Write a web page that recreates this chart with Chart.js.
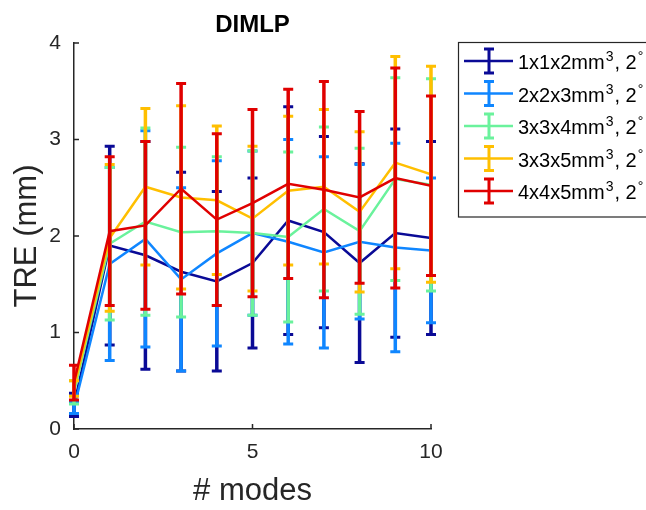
<!DOCTYPE html>
<html>
<head>
<meta charset="utf-8">
<script src="https://cdn.jsdelivr.net/npm/chart.js@4.4.1/dist/chart.umd.min.js"></script>
<style>
    html, body { margin: 0; padding: 0; background: #ffffff; }
    #wrap { width: 646px; height: 510px; }
</style>
</head>
<body>
<div id="wrap"><canvas id="treChart" width="646" height="510"></canvas></div>
<script>
// ======================================================
// Data
// ======================================================

const modes = [0, 1, 2, 3, 4, 5, 6, 7, 8, 9, 10];

const xTicks = [0, 5, 10];
const yTicks = [0, 1, 2, 3, 4];

const seriesLabels = ["1x1x2", "2x2x3", "3x3x4", "3x3x5", "4x4x5"];

const tre112 = [0.25, 1.90, 1.80, 1.63, 1.53, 1.72, 2.16, 2.04, 1.72, 2.03, 1.98];
const err112 = [0.12, 1.03, 1.18, 1.03, 0.93, 0.88, 1.18, 0.99, 1.03, 1.08, 1.00];

const tre223 = [0.22, 1.71, 1.97, 1.55, 1.82, 2.03, 1.94, 1.83, 1.94, 1.88, 1.85];
const err223 = [0.06, 1.00, 1.12, 0.95, 0.96, 0.85, 1.06, 0.99, 0.80, 1.08, 0.75];

const tre334 = [0.38, 1.92, 2.15, 2.04, 2.05, 2.03, 1.99, 2.28, 2.05, 2.59, 2.53];
const err334 = [0.12, 0.79, 0.97, 0.88, 0.77, 0.85, 0.88, 0.85, 0.86, 1.05, 1.10];

const tre335 = [0.42, 1.98, 2.51, 2.40, 2.37, 2.18, 2.47, 2.51, 2.25, 2.76, 2.64];
const err335 = [0.08, 0.76, 0.81, 0.95, 0.77, 0.75, 0.77, 0.80, 0.83, 1.10, 1.12];

const tre445 = [0.48, 2.05, 2.11, 2.49, 2.17, 2.34, 2.54, 2.48, 2.40, 2.60, 2.52];
const err445 = [0.18, 0.77, 0.87, 1.09, 0.89, 0.97, 0.98, 1.12, 0.89, 1.14, 0.93];

const seriesColors = ["#0a0a96", "#0f86ff", "#6af29c", "#ffbf00", "#e00000"];

// ======================================================
// Helpers
// ======================================================

const axisColor = "#262626";
const fontFamily = "'Liberation Sans', Arial, Helvetica, sans-serif";

function makeDataset(index, means, errors) {

    return {
        label: seriesLabels[index],
        data: modes.map((m, i) => ({ x: m, y: means[i] })),
        errors: errors,
        borderColor: seriesColors[index],
        borderWidth: 2.5,
        pointRadius: 0,
        tension: 0,
        fill: false,
        order: 4 - index
    };
}

// ======================================================
// Error bars (drawn right after each line, like errorbar)
// ======================================================

const errorBarPlugin = {

    id: "errorBars",

    afterDatasetDraw(chart, args) {

        const ds = chart.data.datasets[args.index];
        const ctx = chart.ctx;
        const xs = chart.scales.x;
        const ys = chart.scales.y;
        const capHalf = 5;

        ctx.save();
        ctx.strokeStyle = ds.borderColor;
        ctx.lineCap = "butt";

        ds.data.forEach((pt, i) => {

            const px = xs.getPixelForValue(pt.x);
            const top = ys.getPixelForValue(pt.y + ds.errors[i]);
            const bottom = ys.getPixelForValue(pt.y - ds.errors[i]);

            ctx.lineWidth = 3.5;
            ctx.beginPath();
            ctx.moveTo(px, top);
            ctx.lineTo(px, bottom);
            ctx.stroke();

            ctx.lineWidth = 3;
            ctx.beginPath();
            ctx.moveTo(px - capHalf, top);
            ctx.lineTo(px + capHalf, top);
            ctx.moveTo(px - capHalf, bottom);
            ctx.lineTo(px + capHalf, bottom);
            ctx.stroke();
        });

        ctx.restore();
    }
};

// ======================================================
// Inward ticks, title and legend
// ======================================================

const decorPlugin = {

    id: "decor",

    afterDraw(chart) {

        const ctx = chart.ctx;
        const xs = chart.scales.x;
        const ys = chart.scales.y;
        const area = chart.chartArea;

        ctx.save();

        // inward tick marks
        ctx.strokeStyle = axisColor;
        ctx.lineWidth = 1.5;
        ctx.beginPath();
        yTicks.forEach(v => {
            const py = ys.getPixelForValue(v);
            ctx.moveTo(area.left, py);
            ctx.lineTo(area.left + 5, py);
        });
        xTicks.forEach(v => {
            const px = xs.getPixelForValue(v);
            ctx.moveTo(px, area.bottom);
            ctx.lineTo(px, area.bottom - 5);
        });
        ctx.stroke();

        // title
        ctx.fillStyle = "#000000";
        ctx.font = "bold 24px " + fontFamily;
        ctx.textAlign = "center";
        ctx.textBaseline = "alphabetic";
        ctx.fillText("DIMLP", (area.left + area.right) / 2, 32);

        // legend box
        const boxLeft = 458.5;
        const boxTop = 42.5;
        const rowGap = 32.5;

        ctx.fillStyle = "#ffffff";
        ctx.fillRect(boxLeft, boxTop, 300, 5 * rowGap + 12);
        ctx.strokeStyle = axisColor;
        ctx.lineWidth = 1.2;
        ctx.strokeRect(boxLeft, boxTop, 300, 5 * rowGap + 12);

        seriesLabels.forEach((name, i) => {

            const cy = 61 + i * rowGap;

            ctx.strokeStyle = seriesColors[i];
            ctx.lineWidth = 2.5;
            ctx.beginPath();
            ctx.moveTo(464, cy);
            ctx.lineTo(513, cy);
            ctx.stroke();

            ctx.lineWidth = 3;
            ctx.beginPath();
            ctx.moveTo(489, cy - 12);
            ctx.lineTo(489, cy + 12);
            ctx.moveTo(484, cy - 12);
            ctx.lineTo(494, cy - 12);
            ctx.moveTo(484, cy + 12);
            ctx.lineTo(494, cy + 12);
            ctx.stroke();

            ctx.fillStyle = "#000000";
            ctx.textAlign = "left";
            ctx.textBaseline = "alphabetic";

            let tx = 518;
            const base = cy + 8;

            ctx.font = "20px " + fontFamily;
            const main = name + "mm";
            ctx.fillText(main, tx, base);
            tx += ctx.measureText(main).width + 1;

            ctx.font = "14px " + fontFamily;
            ctx.fillText("3", tx, base - 8);
            tx += ctx.measureText("3").width + 1;

            ctx.font = "20px " + fontFamily;
            ctx.fillText(", 2", tx, base);
            tx += ctx.measureText(", 2").width + 1;

            ctx.font = "14px " + fontFamily;
            ctx.fillText("°", tx, base - 8);
        });

        ctx.restore();
    }
};

// ======================================================
// Chart
// ======================================================

const treChart = new Chart(
    document.getElementById("treChart"),
    {
        type: "line",

        data: {
            datasets: [
                makeDataset(0, tre112, err112),
                makeDataset(1, tre223, err223),
                makeDataset(2, tre334, err334),
                makeDataset(3, tre335, err335),
                makeDataset(4, tre445, err445)
            ]
        },

        options: {

            responsive: false,
            animation: false,
            devicePixelRatio: 1,

            layout: {
                padding: { top: 43, right: 215, bottom: 0, left: 0 }
            },

            plugins: {
                legend: { display: false },
                title: { display: false },
                tooltip: { enabled: false }
            },

            scales: {

                x: {
                    type: "linear",
                    min: 0,
                    max: 10,
                    afterBuildTicks: s => { s.ticks = xTicks.map(v => ({ value: v })); },
                    afterFit: s => { s.height = 81; },
                    grid: { display: false },
                    border: { display: true, color: axisColor, width: 1.5 },
                    ticks: {
                        color: axisColor,
                        padding: 3,
                        maxRotation: 0,
                        font: { family: fontFamily, size: 21 }
                    },
                    title: {
                        display: true,
                        text: "# modes",
                        color: axisColor,
                        padding: { top: 0, bottom: 0 },
                        font: { family: fontFamily, size: 31, lineHeight: 1.2 }
                    }
                },

                y: {
                    min: 0,
                    max: 4,
                    afterBuildTicks: s => { s.ticks = yTicks.map(v => ({ value: v })); },
                    afterFit: s => { s.width = 74; },
                    grid: { display: false },
                    border: { display: true, color: axisColor, width: 1.5 },
                    ticks: {
                        color: axisColor,
                        padding: 5,
                        font: { family: fontFamily, size: 21 }
                    },
                    title: {
                        display: true,
                        text: "TRE (mm)",
                        color: axisColor,
                        padding: { top: 9, bottom: 0 },
                        font: { family: fontFamily, size: 31, lineHeight: 1.2 }
                    }
                }
            }
        },

        plugins: [errorBarPlugin, decorPlugin]
    }
);
</script>
</body>
</html>
